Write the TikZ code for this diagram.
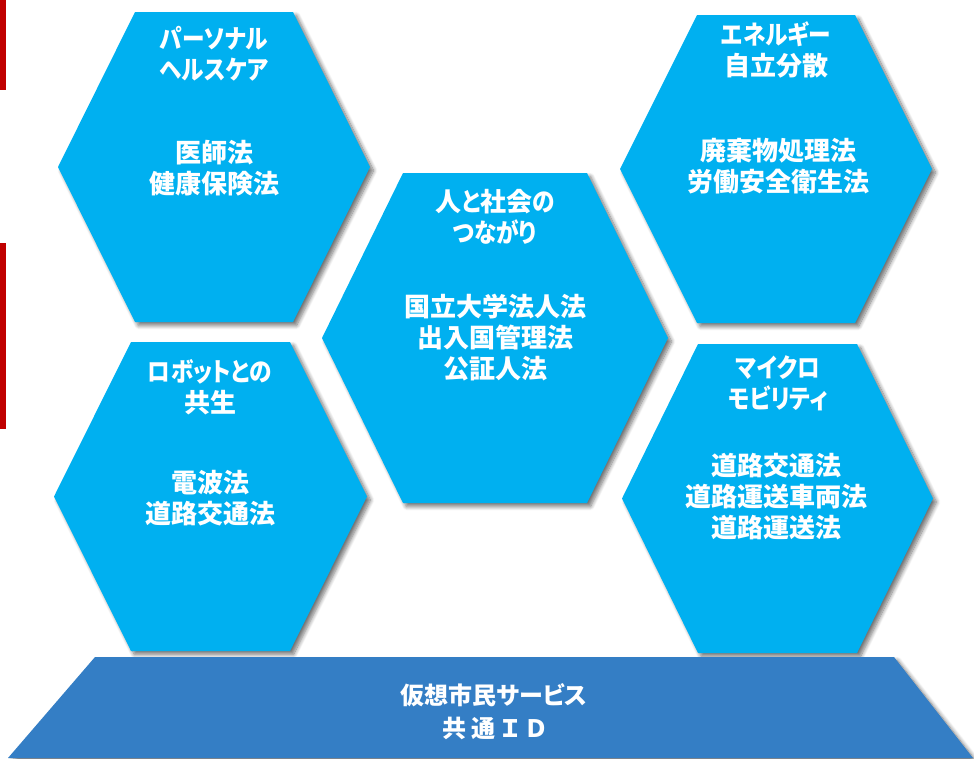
\documentclass[tikz,border=0pt]{standalone}
\usepackage{fontspec}
\setmainfont{Noto Sans CJK JP}[RawFeature=+palt]
\newfontfamily\kanafont{Noto Sans CJK JP}[RawFeature=+palt, FakeStretch=0.87]
\usetikzlibrary{shadows.blur}
\definecolor{hexblue}{RGB}{0,176,240}
\definecolor{baseblue}{RGB}{52,126,197}
\definecolor{barred}{RGB}{192,0,0}
\tikzset{
  softshadow/.style={blur shadow={shadow xshift=3.5pt, shadow yshift=-3.5pt, shadow opacity=55, shadow blur radius=4pt, shadow blur steps=8}},
  hexshape/.style={fill=hexblue, softshadow},
  basebox/.style={fill=baseblue, softshadow},
  redbar/.style={fill=barred},
  lbl/.style={text=white, font=\bfseries\fontsize{26}{31}\selectfont, align=center, inner sep=0pt},
  baselbl/.style={text=white, font=\bfseries\fontsize{24}{33}\selectfont, align=center, inner sep=0pt},
}
\newcommand\kn[1]{{\kanafont\bfseries #1}}
% #1 cx, #2 cy, #3 half width, #4 half height, #5 half width of top edge
\newcommand\drawhex[5]{%
  \path[hexshape] (#1-#3,#2) -- (#1-#5,#2-#4) -- (#1+#5,#2-#4) -- (#1+#3,#2)
    -- (#1+#5,#2+#4) -- (#1-#5,#2+#4) -- cycle;
}
\begin{document}
\begin{tikzpicture}[x=1pt,y=-1pt]
\useasboundingbox (0,0) rectangle (974,758);
% red bars at the left edge
\path[redbar] (0,0) rectangle (6,90);
\path[redbar] (0,243) rectangle (6,429);
% hexagons
\drawhex{214}{167}{156}{155}{79}
\drawhex{210.5}{496.5}{156.5}{154.5}{79.5}
\drawhex{495}{338}{173}{165}{92}
\drawhex{776}{169}{156}{154}{79}
\drawhex{777.5}{498.5}{155.5}{154.5}{79.5}
% base
\path[basebox] (95,657) -- (894,657) -- (973,758) -- (8,758) -- cycle;
% texts
\node[lbl] (t1) at (214,53.5) {\kn{パーソナル}\\\kn{ヘルスケア}};
\node[lbl] (l1) at (214,168) {医師法\\健康保険法};
\node[lbl] (t2) at (210,387.5) {\kn{ロボットとの}\\共生};
\node[lbl] (l2) at (210,498) {電波法\\道路交通法};
\node[lbl] (t3) at (495,217) {人\kn{と}社会\kn{の}\\\kn{つながり}};
\node[lbl] (l3) at (495,337.5) {国立大学法人法\\出入国管理法\\公証人法};
\node[lbl] (t4) at (776,50) {\kn{エネルギー}\\自立分散};
\node[lbl] (l4) at (778,166) {廃棄物処理法\\労働安全衛生法};
\node[lbl] (t5) at (778,383) {\kn{マイクロ}\\\kn{モビリティ}};
\node[lbl] (l5) at (776,496.5) {道路交通法\\道路運送車両法\\道路運送法};
\node[baselbl] (b) at (494,711.5) {仮想市民サービス\\共 通 Ｉ Ｄ};
\end{tikzpicture}
\end{document}
